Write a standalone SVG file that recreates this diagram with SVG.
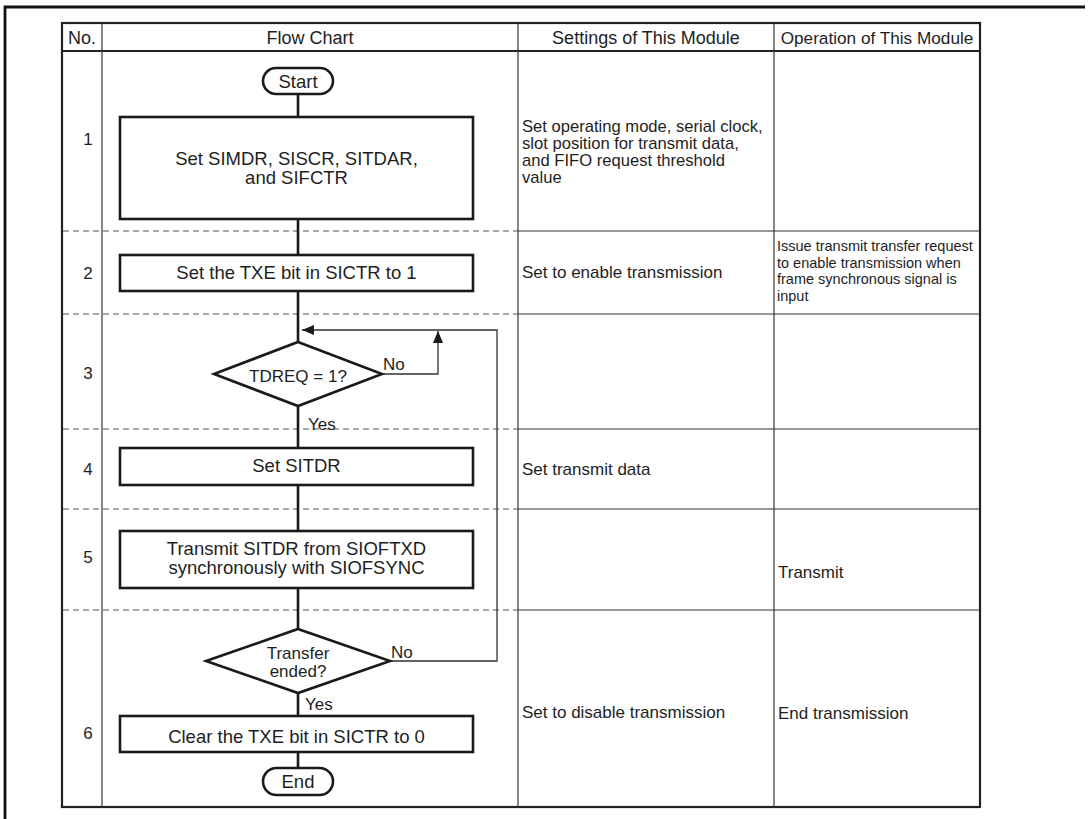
<svg xmlns="http://www.w3.org/2000/svg" width="1091" height="819" viewBox="0 0 1091 819">
<defs>
<style>
text{font-family:"Liberation Sans",Arial,sans-serif;fill:#1e1e1e}
.hd{font-size:18px;text-anchor:middle}
.hd2{font-size:17.2px;text-anchor:middle}
.num{font-size:17px;text-anchor:middle}
.bx{font-size:18.5px;text-anchor:middle}
.dm{font-size:17px;text-anchor:middle}
.lb{font-size:17px}
.st{font-size:17px}
.st1{font-size:16.6px}
.op{font-size:14.5px}
.node{fill:#fff;stroke:#1a1a1a;stroke-width:2.6}
.flow{fill:none;stroke:#1a1a1a;stroke-width:2.6}
.loop{fill:none;stroke:#333;stroke-width:1.3}
.grid{stroke:#333;stroke-width:1.2}
.dash{stroke:#555;stroke-width:1.2;stroke-dasharray:6 4}
</style>
<marker id="ah" viewBox="0 0 12 10" refX="12" refY="5" markerWidth="12" markerHeight="10" markerUnits="userSpaceOnUse" orient="auto">
<path d="M0,0 L12,5 L0,10 Z" fill="#1a1a1a"/>
</marker>
</defs>
<rect width="1091" height="819" fill="#fff"/>
<path d="M5,819 V7 H1085" fill="none" stroke="#111" stroke-width="2.8"/>
<g id="table">
<rect x="62" y="23" width="918" height="784" fill="none" stroke="#222" stroke-width="2.2"/>
<line x1="62" y1="51" x2="980" y2="51" stroke="#222" stroke-width="2.2"/>
<line class="grid" x1="102" y1="23" x2="102" y2="807"/>
<line class="grid" x1="518" y1="23" x2="518" y2="807"/>
<line class="grid" x1="774" y1="23" x2="774" y2="807"/>
<line class="grid" x1="518" y1="231" x2="980" y2="231"/>
<line class="grid" x1="518" y1="314" x2="980" y2="314"/>
<line class="grid" x1="518" y1="429" x2="980" y2="429"/>
<line class="grid" x1="518" y1="509" x2="980" y2="509"/>
<line class="grid" x1="518" y1="610" x2="980" y2="610"/>
<line class="dash" x1="63" y1="231" x2="518" y2="231"/>
<line class="dash" x1="63" y1="314" x2="518" y2="314"/>
<line class="dash" x1="63" y1="429" x2="518" y2="429"/>
<line class="dash" x1="63" y1="509" x2="518" y2="509"/>
<line class="dash" x1="63" y1="610" x2="518" y2="610"/>
<text class="hd" x="82" y="44">No.</text>
<text class="hd" x="310" y="44">Flow Chart</text>
<text class="hd" x="646" y="44">Settings of This Module</text>
<text class="hd2" x="877" y="44">Operation of This Module</text>
<text class="num" x="88" y="145">1</text>
<text class="num" x="88" y="279">2</text>
<text class="num" x="88" y="379">3</text>
<text class="num" x="88" y="475">4</text>
<text class="num" x="88" y="563">5</text>
<text class="num" x="88" y="739">6</text>
<text class="st1"><tspan x="522" y="132">Set operating mode, serial clock,</tspan><tspan x="522" y="149">slot position for transmit data,</tspan><tspan x="522" y="166">and FIFO request threshold</tspan><tspan x="522" y="183">value</tspan></text>
<text class="st" x="522" y="278">Set to enable transmission</text>
<text class="op"><tspan x="777" y="251">Issue transmit transfer request</tspan><tspan x="777" y="267.5">to enable transmission when</tspan><tspan x="777" y="284">frame synchronous signal is</tspan><tspan x="777" y="300.5">input</tspan></text>
<text class="st" x="522" y="475">Set transmit data</text>
<text class="st" x="778" y="578">Transmit</text>
<text class="st" x="522" y="718">Set to disable transmission</text>
<text class="st" x="778" y="719">End transmission</text>
</g>
<g id="connectors">
<line class="flow" x1="298" y1="94" x2="298" y2="117"/>
<line class="flow" x1="298" y1="219" x2="298" y2="255"/>
<line class="flow" x1="298" y1="291" x2="298" y2="342"/>
<line class="flow" x1="298" y1="406" x2="298" y2="448"/>
<line class="flow" x1="298" y1="485" x2="298" y2="531"/>
<line class="flow" x1="298" y1="588" x2="298" y2="629"/>
<line class="flow" x1="298" y1="693" x2="298" y2="716"/>
<line class="flow" x1="298" y1="752" x2="298" y2="768"/>
<path class="loop" d="M382,374 H438 V331" marker-end="url(#ah)"/>
<path class="loop" d="M390,661 H497 V330 H302" marker-end="url(#ah)"/>
<text class="lb" x="383" y="370">No</text>
<text class="lb" x="308" y="430">Yes</text>
<text class="lb" x="391" y="658">No</text>
<text class="lb" x="305" y="710">Yes</text>
</g>
<g id="start">
<rect class="node" x="263" y="68" width="70" height="26" rx="13"/>
<text class="bx" x="298" y="88">Start</text>
</g>
<g id="step1">
<rect class="node" x="120" y="117" width="353" height="102"/>
<text class="bx"><tspan x="296.5" y="164.5">Set SIMDR, SISCR, SITDAR,</tspan><tspan x="296.5" y="183.5">and SIFCTR</tspan></text>
</g>
<g id="step2">
<rect class="node" x="120" y="255" width="353" height="36"/>
<text class="bx" x="296.5" y="279">Set the TXE bit in SICTR to 1</text>
</g>
<g id="decision3">
<polygon class="node" points="298,342 382,374 298,406 214,374"/>
<text class="dm" x="298" y="382">TDREQ = 1?</text>
</g>
<g id="step4">
<rect class="node" x="120" y="448" width="353" height="37"/>
<text class="bx" x="296.5" y="472">Set SITDR</text>
</g>
<g id="step5">
<rect class="node" x="120" y="531" width="353" height="57"/>
<text class="bx"><tspan x="296.5" y="554.5">Transmit SITDR from SIOFTXD</tspan><tspan x="296.5" y="573.5">synchronously with SIOFSYNC</tspan></text>
</g>
<g id="decision6">
<polygon class="node" points="298,629 390,661 298,693 206,661"/>
<text class="dm"><tspan x="298" y="659">Transfer</tspan><tspan x="298" y="677">ended?</tspan></text>
</g>
<g id="step6">
<rect class="node" x="120" y="716" width="353" height="36"/>
<text class="bx" x="296.5" y="743">Clear the TXE bit in SICTR to 0</text>
</g>
<g id="end">
<rect class="node" x="263" y="768" width="70" height="27" rx="13.5"/>
<text class="bx" x="298" y="788">End</text>
</g>
</svg>
